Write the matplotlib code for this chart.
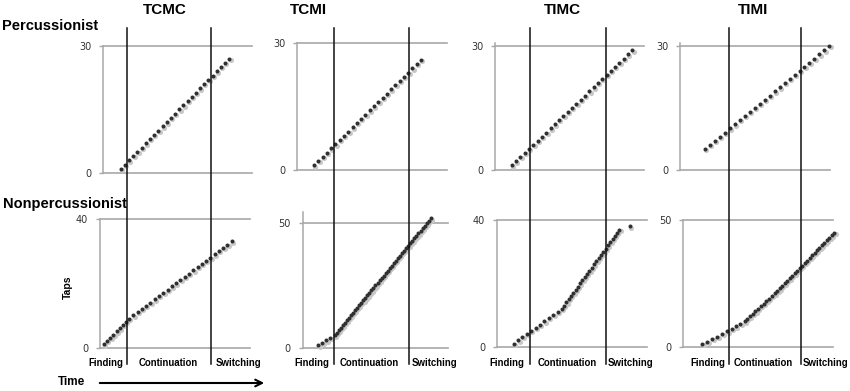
import matplotlib
matplotlib.use("Agg")
import matplotlib.pyplot as plt
from matplotlib import transforms
from matplotlib.patches import FancyArrowPatch

# ---------------- data ----------------
conditions = ["TCMC", "TCMI", "TIMC", "TIMI"]
groups = ["Percussionist", "Nonpercussionist"]
phases = ["Finding", "Continuation", "Switching"]
top_ticks = [30, 30, 30, 30]
bottom_ticks = [40, 50, 40, 50]

# phase boundaries (time units) per condition
cont_start = [24.3, 36.7, 35.0, 48.7]
switch_start = [107.7, 112.3, 111.0, 121.3]

# Percussionist tap times / cumulative taps
tcmc_perc_t = [17.7, 21.9, 26.1, 30.2, 34.4, 38.6, 42.8, 46.9, 51.1, 55.3, 59.5, 63.6, 67.8,
               72.0, 76.2, 80.4, 84.5, 88.7, 92.9, 97.1, 101.2, 105.4, 109.6, 113.8, 118.0,
               122.1, 126.3]
tcmc_perc_y = [1, 2, 3, 4, 5, 6, 7, 8, 9, 10, 11, 12, 13, 14, 15, 16, 17, 18, 19, 20, 21, 22,
               23, 24, 25, 26, 27]
tcmi_perc_t = [17.0, 21.3, 25.6, 29.8, 34.1, 38.4, 42.7, 47.0, 51.2, 55.5, 59.8, 64.1, 68.4,
               72.6, 76.9, 81.2, 85.5, 89.8, 94.0, 98.3, 102.6, 106.9, 111.2, 115.4, 119.7, 124.0]
tcmi_perc_y = [1, 2, 3, 4, 5, 6, 7, 8, 9, 10, 11, 12, 13, 14, 15, 16, 17, 18, 19, 20, 21, 22,
               23, 24, 25, 26]
timc_perc_t = [16.7, 21.0, 25.3, 29.6, 33.9, 38.2, 42.5, 46.8, 51.2, 55.5, 59.8, 64.1, 68.4,
               72.7, 77.0, 81.3, 85.6, 89.9, 94.2, 98.5, 102.8, 107.1, 111.5, 115.8, 120.1,
               124.4, 128.7, 133.0, 137.3]
timc_perc_y = [1, 2, 3, 4, 5, 6, 7, 8, 9, 10, 11, 12, 13, 14, 15, 16, 17, 18, 19, 20, 21, 22,
               23, 24, 25, 26, 27, 28, 29]
timi_perc_t = [25.0, 30.0, 34.9, 39.9, 44.9, 49.9, 54.8, 59.8, 64.8, 69.7, 74.7, 79.7, 84.7,
               89.6, 94.6, 99.6, 104.6, 109.5, 114.5, 119.5, 124.4, 129.4, 134.4, 139.4, 144.3,
               149.3]
timi_perc_y = [5, 6, 7, 8, 9, 10, 11, 12, 13, 14, 15, 16, 17, 18, 19, 20, 21, 22, 23, 24, 25,
               26, 27, 28, 29, 30]

# Nonpercussionist tap times / cumulative taps
tcmc_non_t = [1.0, 4.1, 7.3, 10.4, 13.6, 16.7, 19.9, 23.0,
              26.0, 30.3, 34.6, 38.8, 43.1, 47.4, 51.7, 56.0, 60.2, 64.5, 68.8, 73.1, 77.4,
              81.6, 85.9, 90.2, 94.5, 98.8, 103.0, 107.3, 111.6, 115.9, 120.2, 124.4, 128.7]
tcmc_non_y = [1, 2, 3, 4, 5, 6, 7, 8, 9, 10, 11, 12, 13, 14, 15, 16, 17, 18, 19, 20, 21, 22,
              23, 24, 25, 26, 27, 28, 29, 30, 31, 32, 33]
tcmi_non_t = [21.3, 25.3, 29.3, 33.3,
              37.5, 39.5, 41.6, 43.6, 45.7, 47.7, 49.8, 51.8, 53.9, 55.9, 58.0, 60.0, 62.1,
              64.1, 66.2, 68.2, 70.3, 72.3, 74.3, 76.4, 78.4, 80.5, 82.5, 84.6, 86.6, 88.7,
              90.7, 92.8, 94.8, 96.9, 98.9, 101.0, 103.0, 105.1, 107.1, 109.1, 111.2, 113.2,
              115.3, 117.3, 119.4, 121.4, 123.5, 125.5, 127.6, 129.6, 131.7, 133.7]
tcmi_non_y = [1, 2, 3, 4, 5, 6, 7, 8, 9, 10, 11, 12, 13, 14, 15, 16, 17, 18, 19, 20, 21, 22,
              23, 24, 25, 26, 27, 28, 29, 30, 31, 32, 33, 34, 35, 36, 37, 38, 39, 40, 41, 42,
              43, 44, 45, 46, 47, 48, 49, 50, 51, 52]
timc_non_t = [19.0, 23.3, 27.3, 31.7, 35.7, 40.7, 45.0, 49.3, 54.0, 58.3, 62.7, 66.7,
              69.0, 71.3, 73.7, 76.0, 78.3, 80.7, 83.0, 85.0, 87.3, 89.7, 92.0, 94.3, 96.7,
              99.0, 101.3, 103.7, 106.0, 108.3, 110.7, 113.0, 115.3, 117.7, 120.0, 122.0,
              124.3, 135.0]
timc_non_y = [1, 2, 3, 4, 5, 6, 7, 8, 9, 10, 11, 12, 13, 14, 15, 16, 17, 18, 19, 20, 21, 22,
              23, 24, 25, 26, 27, 28, 29, 30, 31, 32, 33, 34, 35, 36, 37, 38]
timi_non_t = [22.3, 27.3, 32.3, 37.3, 42.3, 47.3, 51.7, 56.0, 60.3, 64.7,
              67.0, 69.8, 72.5, 75.3, 78.1, 80.8, 83.6, 86.4, 89.1, 91.9, 94.7,
              97.2, 99.6, 102.1, 104.6, 107.1, 109.6, 112.1, 114.6, 117.0, 119.5, 122.0,
              124.5, 127.0, 129.5, 132.0, 134.5, 136.9, 139.4, 141.9, 144.4, 146.9, 149.4,
              151.9, 154.3]
timi_non_y = [1, 2, 3, 4, 5, 6, 7, 8, 9, 10, 11, 12, 13, 14, 15, 16, 17, 18, 19, 20, 21, 22,
              23, 24, 25, 26, 27, 28, 29, 30, 31, 32, 33, 34, 35, 36, 37, 38, 39, 40, 41, 42,
              43, 44, 45]

perc_series = [(tcmc_perc_t, tcmc_perc_y), (tcmi_perc_t, tcmi_perc_y),
               (timc_perc_t, timc_perc_y), (timi_perc_t, timi_perc_y)]
non_series = [(tcmc_non_t, tcmc_non_y), (tcmi_non_t, tcmi_non_y),
              (timc_non_t, timc_non_y), (timi_non_t, timi_non_y)]

# ---------------- layout (pixels) ----------------
W, H = 850, 391
top_px = [(103, 252, 46, 173), (297, 447, 43, 169.5), (495, 644, 43.3, 169.5), (680, 830, 43.3, 169.5)]
bot_px = [(100, 250, 219, 347.5), (302.5, 448, 212.3, 347.7), (497, 647, 220, 346.7), (683, 832.7, 220, 346.7)]
top_ymax = [30, 30, 30.7, 30.7]
bot_ymax = [40, 54.4, 40, 50]
title_x = [165, 308, 562, 753]
phase_x = [(105.5, 168, 239), (312.3, 369.2, 434.2), (507.3, 566.8, 630), (708.3, 763.5, 825.3)]

GRID = "#a8a8a8"
DOT = "#303030"
SHADOW = "#c8c8c8"
BOLD = dict(family="Liberation Sans", fontweight="bold", color="black")

fig = plt.figure(figsize=(W / 100, H / 100), dpi=100)


def make_ax(box, origin, ymax, tick):
    L, R, T, B = box
    ax = fig.add_axes([L / W, 1 - B / H, (R - L) / W, (B - T) / H])
    ax.set_xlim(L - origin, R - origin)
    ax.set_ylim(0, ymax)
    for s in ("top", "right", "bottom"):
        ax.spines[s].set_visible(False)
    ax.spines["left"].set_color(GRID)
    ax.spines["left"].set_linewidth(1.1)
    ax.set_xticks([])
    ax.set_yticks([0, tick])
    ax.tick_params(axis="y", length=3, width=1, color=GRID, pad=5.5,
                   labelsize=7, labelcolor="#333333")
    ax.yaxis.grid(True, color=GRID, lw=1.2)
    for gl in ax.get_ygridlines():
        gl.set_clip_on(False)
    ax.set_axisbelow(True)
    ax.patch.set_alpha(0)
    return ax


def dots(ax, t, y):
    sh = transforms.offset_copy(ax.transData, fig=fig, x=1.3, y=-1.3, units="dots")
    ax.plot(t, y, "o", ms=3.7, color=SHADOW, mec="none", transform=sh, clip_on=False, zorder=2)
    ax.plot(t, y, "o", ms=2.9, color=DOT, mec="none", clip_on=False, zorder=3)


for i in range(4):
    origin = top_px[i][0]
    axt = make_ax(top_px[i], origin, top_ymax[i], top_ticks[i])
    axb = make_ax(bot_px[i], origin, bot_ymax[i], bottom_ticks[i])
    dots(axt, *perc_series[i])
    dots(axb, *non_series[i])
    tr = transforms.blended_transform_factory(axb.transData, fig.transFigure)
    for xv in (cont_start[i], switch_start[i]):
        axb.plot([xv, xv], [1 - 28 / H, 1 - 364 / H], color="#111111", lw=1.1,
                 transform=tr, clip_on=False, zorder=5)
    fig.text(title_x[i] / W, 1 - 10 / H, conditions[i], ha="center", va="center",
             fontsize=11, **BOLD)
    for name, px in zip(phases, phase_x[i]):
        fig.text(px / W, 1 - 363 / H, name, ha="center", va="center", fontsize=6.9, **BOLD)

fig.text(2 / W, 1 - 26 / H, groups[0], ha="left", va="center", fontsize=10.5, **BOLD)
fig.text(3 / W, 1 - 204 / H, groups[1], ha="left", va="center", fontsize=10.5, **BOLD)
fig.text(68 / W, 1 - 287 / H, "Taps", ha="center", va="center", rotation=90,
         fontsize=7.5, **BOLD)
fig.text(71.5 / W, 1 - 382 / H, "Time", ha="center", va="center", fontsize=8.5, **BOLD)
fig.add_artist(FancyArrowPatch((97 / W, 1 - 383 / H), (267 / W, 1 - 383 / H),
                               transform=fig.transFigure, arrowstyle="->",
                               mutation_scale=12, lw=1.5, color="black"))

fig.savefig("out.png", dpi=100)
